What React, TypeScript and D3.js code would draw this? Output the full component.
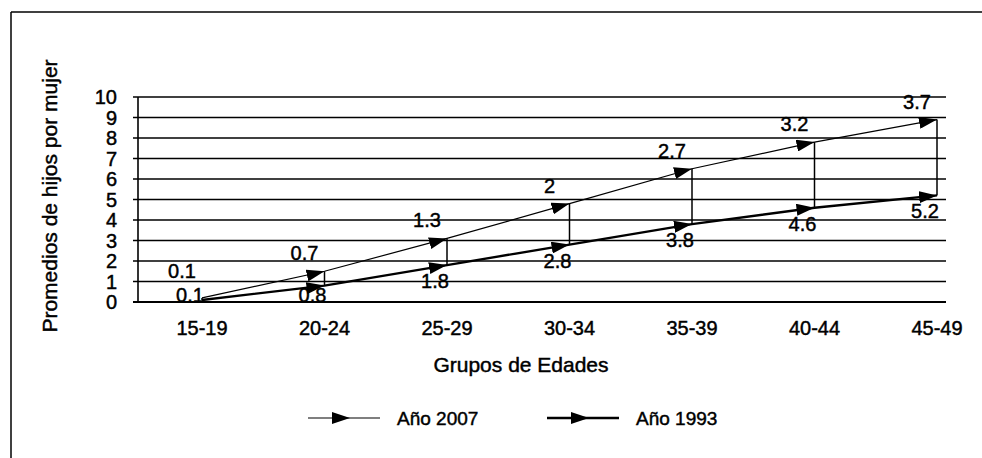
import React from 'react';
import * as d3 from 'd3';

const ageGroups = ['15-19', '20-24', '25-29', '30-34', '35-39', '40-44', '45-49'];
const year1993 = [0.1, 0.8, 1.8, 2.8, 3.8, 4.6, 5.2];
const year2007 = [0.1, 0.7, 1.3, 2, 2.7, 3.2, 3.7];
const yTicks = [0, 1, 2, 3, 4, 5, 6, 7, 8, 9, 10];
const legendItems = [
  { key: 'y2007', label: 'Año 2007' },
  { key: 'y1993', label: 'Año 1993' },
];

export default function App() {
  const width = 982;
  const height = 458;
  const font = 'Liberation Sans, Arial, sans-serif';

  const plot = { left: 138, right: 946, top: 97, bottom: 302 };

  const x = d3.scalePoint<string>().domain(ageGroups).range([202, 937]);
  const y = d3.scaleLinear().domain([0, 10]).range([plot.bottom, plot.top]);

  // stacked line chart: 2007 sits on top of 1993
  const table = ageGroups.map((g, i) => ({ group: g, y1993: year1993[i], y2007: year2007[i] }));
  const series = d3.stack<any>().keys(['y1993', 'y2007'])(table);
  const lower = series[0].map((d, i) => ({ group: ageGroups[i], v: d[1] }));
  const upper = series[1].map((d, i) => ({ group: ageGroups[i], v: d[1] }));

  const line = d3.line<{ group: string; v: number }>()
    .x(d => x(d.group) as number)
    .y(d => y(d.v));

  const strokeFor: Record<string, number> = { y2007: 1.2, y1993: 2.4 };
  // scanned text looks heavy, thicken a bit
  const txt = { fontFamily: font, fill: '#000', stroke: '#000', strokeWidth: 0.45 };

  // label baselines: lower ones below the point (kept above x labels), upper ones above, not colliding
  const lowerLabelY = lower.map(d => Math.min(y(d.v) + 23, plot.bottom));
  const upperLabelY = upper.map((d, i) => Math.min(y(d.v) - 11, lowerLabelY[i] - 24));

  return (
    <svg width={width} height={height} style={{ position: 'absolute', left: 0, top: 0, background: '#fff' }}>
      <defs>
        <marker id="arrow" viewBox="0 0 18 12" refX={18} refY={6} markerWidth={18} markerHeight={12}
          markerUnits="userSpaceOnUse" orient="auto">
          <path d="M0,0 L18,6 L0,12 Z" fill="#000" />
        </marker>
      </defs>
      <rect x={0} y={0} width={width} height={height} fill="#fff" />

      {/* outer frame */}
      <line x1={11} y1={12} x2={width} y2={12} stroke="#000" strokeWidth={1.5} />
      <line x1={11} y1={12} x2={11} y2={height} stroke="#000" strokeWidth={1.5} />

      {/* gridlines + y ticks */}
      {yTicks.map(t => (
        <g key={t}>
          <line x1={plot.left - 5} x2={plot.right} y1={y(t)} y2={y(t)} stroke="#000"
            strokeWidth={t === 0 ? 2.2 : 1.4} />
          <text x={plot.left - 21} y={y(t) + 7} textAnchor="end" fontSize={20} {...txt}>{t}</text>
        </g>
      ))}
      <line x1={plot.left} x2={plot.left} y1={plot.top} y2={plot.bottom} stroke="#000" strokeWidth={1.6} />

      {/* x labels */}
      {ageGroups.map(g => (
        <text key={g} x={x(g)} y={335} textAnchor="middle" fontSize={20} {...txt}>{g}</text>
      ))}

      {/* high-low lines */}
      {ageGroups.map((g, i) => (
        <line key={g} x1={x(g)} x2={x(g)} y1={y(lower[i].v)} y2={y(upper[i].v)} stroke="#000" strokeWidth={1.5} />
      ))}

      <path d={line(upper) || ''} fill="none" stroke="#000" strokeWidth={strokeFor.y2007}
        markerMid="url(#arrow)" markerEnd="url(#arrow)" />
      <path d={line(lower) || ''} fill="none" stroke="#000" strokeWidth={strokeFor.y1993}
        markerMid="url(#arrow)" markerEnd="url(#arrow)" />

      {/* data labels */}
      {upper.map((d, i) => (
        <text key={'u' + i} x={(x(d.group) as number) - 20} y={upperLabelY[i]} textAnchor="middle"
          fontSize={20} {...txt}>{year2007[i]}</text>
      ))}
      {lower.map((d, i) => (
        <text key={'l' + i} x={(x(d.group) as number) - 12} y={lowerLabelY[i]} textAnchor="middle"
          fontSize={20} {...txt}>{year1993[i]}</text>
      ))}

      {/* axis titles */}
      <text transform="translate(57,196) rotate(-90)" textAnchor="middle" fontSize={21} {...txt}>
        Promedios de hijos por mujer
      </text>
      <text x={521} y={372} textAnchor="middle" fontSize={21} {...txt}>Grupos de Edades</text>

      {/* legend */}
      {legendItems.map((item, i) => {
        const lx = 308 + i * 239;
        return (
          <g key={item.key}>
            <path d={`M${lx},418 L${lx + 42},418 L${lx + 72},418`} fill="none" stroke="#000"
              strokeWidth={strokeFor[item.key]} markerMid="url(#arrow)" />
            <text x={lx + 89} y={425} fontSize={19} {...txt}>{item.label}</text>
          </g>
        );
      })}
    </svg>
  );
}
